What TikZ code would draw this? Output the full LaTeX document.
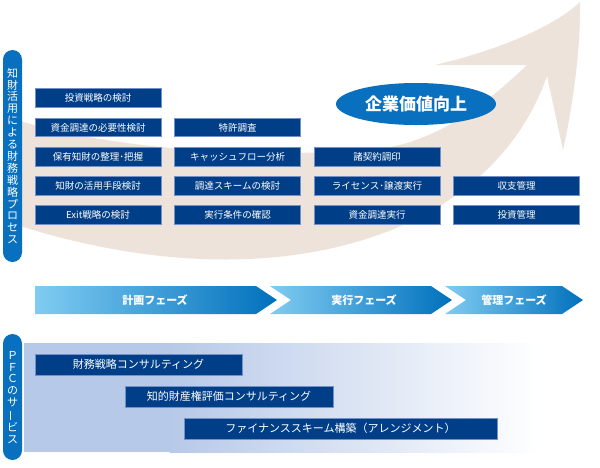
\documentclass[tikz,border=0pt]{standalone}
\usepackage{fontspec}
\usepackage{graphicx}
\setmainfont{Noto Sans CJK JP}
\usetikzlibrary{shapes.geometric}
\definecolor{boxblue}{HTML}{003F88}
\definecolor{boxedge}{HTML}{7391C8}
\definecolor{pillblue}{HTML}{0870BE}
\definecolor{swooshc}{HTML}{EEE3DB}
\definecolor{phaseL}{HTML}{80CCF2}
\definecolor{phaseR}{HTML}{0070BC}
\definecolor{svcbg}{HTML}{B7C9E8}
\begin{document}
\begin{tikzpicture}[x=1pt,y=-1pt,
  task/.style={draw=boxedge, line width=0.7pt, fill=boxblue, text=white, minimum width=126pt, minimum height=18.5pt, inner sep=0pt, font=\fontsize{9.5}{10}\selectfont},
  svc/.style={draw=boxedge, line width=0.7pt, fill=boxblue, text=white, minimum height=21pt, inner sep=0pt, font=\fontsize{11}{12}\selectfont},
  pill/.style={fill=pillblue, rounded corners=9.5pt},
  vtext/.style={text=white, align=center, inner sep=0pt, font=\fontsize{11}{11.9}\selectfont},
  phasetext/.style={text=white, font=\bfseries\fontsize{11}{12}\selectfont, inner sep=0pt}
]
\useasboundingbox (0,0) rectangle (600,467);
% swoosh arrow
\fill[swooshc] (20,121) .. controls (120,150) and (250,158) .. (370,150)
  .. controls (430,145) and (480,110) .. (527,65) -- (435,65)
  .. controls (490,52) and (550,30) .. (580,2)
  .. controls (581,50) and (572,110) .. (563,150) -- (547,76)
  .. controls (490,240) and (270,305) .. (20,226) -- cycle;
% service background
\fill[svcbg] (24,343) rectangle (170,452);
\shade[left color=svcbg, right color=white] (169.5,343) rectangle (540,452);
% pills
\fill[pill] (3,50) rectangle (22,262);
\node[vtext] (proc) at (12.5,156) {知\\財\\活\\用\\に\\よ\\る\\財\\務\\戦\\略\\プ\\ロ\\セ\\ス};
\fill[pill] (3,334) rectangle (22,460);
\node[vtext] (pfc) at (12.5,397.5) {Ｐ\\Ｆ\\Ｃ\\の\\サ\\\rotatebox[origin=c]{90}{ー}\\ビ\\ス};
% task boxes
\node[task] (a1) at (98,98) {投資戦略の検討};
\node[task] (a2) at (98,127.5) {資金調達の必要性検討};
\node[task] (a3) at (98,157) {保有知財の整理･把握};
\node[task] (a4) at (98,186) {知財の活用手段検討};
\node[task] (a5) at (98,215) {Exit戦略の検討};
\node[task] (b2) at (237.5,127.5) {特許調査};
\node[task] (b3) at (237.5,157) {キャッシュフロー分析};
\node[task] (b4) at (237.5,186) {調達スキームの検討};
\node[task] (b5) at (237.5,215) {実行条件の確認};
\node[task] (c3) at (377,157) {諸契約調印};
\node[task] (c4) at (377,186) {ライセンス･譲渡実行};
\node[task] (c5) at (377,215) {資金調達実行};
\node[task] (d4) at (516.5,186) {収支管理};
\node[task] (d5) at (516.5,215) {投資管理};
% ellipse
\node[ellipse, fill=pillblue, minimum width=160pt, minimum height=42pt, inner sep=0pt, text=white, font=\bfseries\fontsize{17}{18}\selectfont] (goal) at (416,104) {企業価値向上};
% phase arrows
\shade[left color=phaseL, right color=phaseR] (35,286) -- (256,286) -- (277,300) -- (256,314) -- (35,314) -- cycle;
\shade[left color=phaseL, right color=phaseR] (270,286) -- (431,286) -- (452,300) -- (431,314) -- (270,314) -- (291,300) -- cycle;
\shade[left color=phaseL, right color=phaseR] (445,286) -- (562,286) -- (583,300) -- (562,314) -- (445,314) -- (466,300) -- cycle;
\node[phasetext] (p1) at (155,300) {計画フェーズ};
\node[phasetext] (p2) at (364,300) {実行フェーズ};
\node[phasetext] (p3) at (514,300) {管理フェーズ};
% services
\node[svc, minimum width=207pt] (s1) at (138.5,364.5) {財務戦略コンサルティング};
\node[svc, minimum width=208pt] (s2) at (229,396.5) {知的財産権評価コンサルティング};
\node[svc, minimum width=313pt] (s3) at (340.5,428.5) {ファイナンススキーム構築（アレンジメント）};
\end{tikzpicture}
\end{document}
